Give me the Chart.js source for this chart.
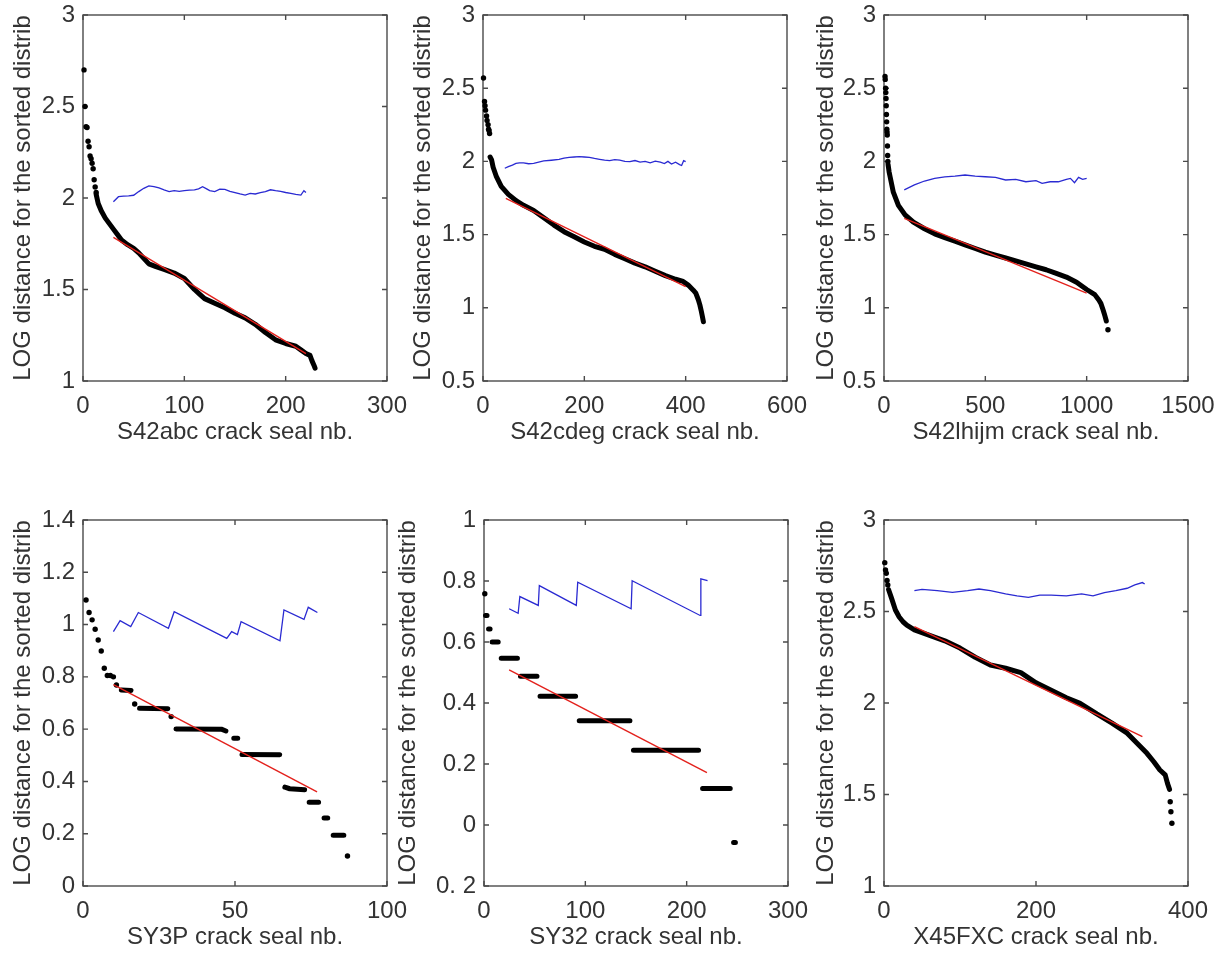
<!DOCTYPE html>
<html>
<head>
<meta charset="utf-8">
<script src="https://cdn.jsdelivr.net/npm/chart.js@4.4.1/dist/chart.umd.min.js"></script>
<style>
  body { margin: 0; background: #fff; }
  #page { position: relative; width: 1227px; height: 954px; overflow: hidden; }
  canvas { position: absolute; }
</style>
</head>
<body>
<div id="page"></div>
<script>
// ---- S42abc ----
const abcDots = [[1,2.70],[2,2.50],[3,2.39],[4,2.385],[5,2.31],[6,2.28],[7,2.23],[8,2.215],[9,2.19],[10,2.16],[11,2.10],[12,2.06],[13,2.03]];
const abcRuns = [[[13,2.02],[15,1.97],[18,1.93],[22,1.89],[26,1.86],[30,1.83],[34,1.80],[38,1.77],[44,1.745],[50,1.725],[55,1.70],[60,1.67],[65,1.64],[72,1.625],[80,1.61],[90,1.59],[100,1.56],[105,1.53],[110,1.50],[115,1.475],[120,1.45],[130,1.425],[140,1.40],[150,1.37],[160,1.345],[170,1.31],[180,1.265],[190,1.225],[200,1.205],[210,1.19],[215,1.17],[220,1.15],[224,1.14],[226,1.11],[228,1.085],[229,1.07]]];
const abcFit = [[30,1.785],[220,1.15]];
const abcAvg = [[30,1.98],[35,2.007],[40,2.01],[45,2.012],[50,2.015],[55,2.035],[60,2.053],[65,2.066],[70,2.062],[75,2.055],[80,2.044],[85,2.035],[90,2.04],[95,2.036],[100,2.04],[105,2.043],[110,2.044],[114,2.05],[118,2.062],[122,2.05],[125,2.04],[130,2.035],[135,2.048],[140,2.047],[145,2.036],[150,2.03],[155,2.022],[160,2.016],[165,2.025],[170,2.022],[175,2.03],[180,2.035],[185,2.045],[190,2.04],[195,2.036],[200,2.03],[205,2.025],[210,2.02],[215,2.016],[218,2.04],[220,2.03]];

// ---- S42cdeg ----
const cdegDots = [[1,2.57],[3,2.41],[4,2.38],[5,2.35],[7,2.31],[8,2.28],[10,2.25],[11,2.22],[12,2.21],[13,2.19]];
const cdegRuns = [[[14,2.03],[17,2.01],[20,1.96],[26,1.90],[36,1.83],[50,1.775],[66,1.73],[80,1.70],[100,1.665],[120,1.615],[140,1.565],[160,1.52],[180,1.485],[200,1.45],[220,1.42],[240,1.40],[260,1.365],[280,1.335],[300,1.305],[320,1.28],[340,1.25],[360,1.22],[380,1.195],[395,1.18],[405,1.155],[415,1.12],[420,1.10],[425,1.055],[428,1.02],[431,0.975],[433,0.94],[435,0.905]]];
const cdegFit = [[45,1.748],[400,1.145]];
const cdegAvg = [[43,1.953],[50,1.964],[58,1.975],[65,1.987],[72,1.99],[80,1.99],[90,1.984],[100,1.987],[110,1.995],[120,2.003],[135,2.008],[150,2.014],[160,2.022],[170,2.028],[180,2.03],[190,2.032],[200,2.03],[210,2.028],[220,2.02],[230,2.014],[240,2.008],[250,2.005],[260,2.012],[270,2.008],[280,2.0],[290,1.998],[300,2.006],[310,1.995],[320,2.0],[330,1.99],[340,2.002],[350,1.995],[358,1.985],[365,2.0],[372,1.982],[380,1.995],[388,1.978],[392,1.972],[396,2.005],[400,1.998]];

// ---- S42lhijm ----
const lhijmDots = [[5,2.58],[6,2.56],[8,2.50],[9,2.47],[10,2.43],[11,2.38],[12,2.32],[13,2.27],[14,2.22],[15,2.20],[16,2.18],[17,2.105],[18,2.04],[19,2.00],[1105,0.85]];
const lhijmRuns = [[[20,1.98],[25,1.93],[30,1.896],[46,1.79],[71,1.70],[104,1.635],[145,1.585],[200,1.54],[250,1.505],[300,1.48],[350,1.455],[400,1.43],[450,1.405],[500,1.38],[550,1.36],[600,1.34],[650,1.32],[700,1.30],[750,1.28],[800,1.26],[850,1.235],[900,1.21],[950,1.175],[1000,1.125],[1040,1.09],[1060,1.053],[1070,1.03],[1080,0.99],[1090,0.945],[1097,0.91]]];
const lhijmFit = [[100,1.611],[1000,1.10]];
const lhijmAvg = [[100,1.805],[150,1.839],[200,1.866],[250,1.884],[300,1.895],[350,1.90],[400,1.907],[450,1.90],[500,1.895],[550,1.891],[600,1.873],[650,1.877],[700,1.861],[750,1.868],[780,1.85],[820,1.861],[860,1.861],[900,1.877],[920,1.884],[940,1.855],[960,1.891],[980,1.877],[1000,1.884]];

// ---- SY3P ----
const sy3pDots = [[1,1.094],[2,1.046],[3,1.018],[4,0.982],[5,0.941],[6,0.899],[7,0.833],[8,0.805],[9,0.805],[10,0.80],[11,0.769],[17,0.696],[29,0.648],[87,0.115]];
const sy3pRuns = [
  [[12.6,0.75],[15.8,0.748]],
  [[18.6,0.68],[27.9,0.678]],
  [[30.6,0.601],[45.5,0.60],[47,0.593]],
  [[49.6,0.565],[50.9,0.565]],
  [[52.3,0.503],[64.7,0.502]],
  [[66.4,0.378],[68,0.372],[72.9,0.368]],
  [[74.4,0.32],[77.5,0.32]],
  [[79.3,0.26],[80.5,0.26]],
  [[82.3,0.194],[85.8,0.194]]
];
const sy3pFit = [[10,0.77],[77,0.36]];
const sy3pAvg = [[10,0.973],[12.2,1.015],[15.7,0.992],[18.2,1.046],[28.1,0.986],[30,1.049],[47.3,0.947],[48.9,0.973],[50.8,0.962],[52,1.011],[64.8,0.938],[66.1,1.056],[72.7,1.02],[74.1,1.066],[77.1,1.046]];

// ---- SY32 ----
const sy32Dots = [[0.8,0.758]];
const sy32Runs = [
  [[1.5,0.687],[3,0.687]],
  [[4.5,0.643],[6,0.643]],
  [[8,0.60],[14,0.60]],
  [[17,0.547],[33,0.547]],
  [[36,0.488],[52.3,0.488]],
  [[55.3,0.422],[90.4,0.422]],
  [[94,0.342],[144,0.342]],
  [[147.5,0.245],[211.7,0.245]],
  [[215.7,0.12],[243,0.12]],
  [[246.3,-0.057],[248.1,-0.057]]
];
const sy32Fit = [[24.8,0.509],[220,0.172]];
const sy32Avg = [[24.8,0.709],[33.7,0.694],[35.4,0.749],[53.6,0.72],[54.6,0.785],[91.1,0.72],[92.5,0.796],[145.2,0.709],[146.2,0.801],[213.3,0.687],[214,0.807],[220.6,0.801]];

// ---- X45FXC ----
const fxcDots = [[1,2.767],[2,2.727],[3,2.709],[4,2.67],[5,2.645],[376.6,1.46],[377.5,1.406],[378.8,1.343]];
const fxcRuns = [[[6,2.62],[7,2.608],[10,2.572],[15,2.508],[20,2.47],[25,2.444],[30,2.426],[40,2.40],[60,2.37],[80,2.34],[100,2.30],[120,2.25],[140,2.208],[160,2.19],[180,2.166],[200,2.11],[220,2.07],[240,2.029],[258,1.998],[280,1.94],[300,1.89],[320,1.835],[333,1.78],[346,1.725],[355,1.679],[363,1.634],[370,1.607],[373,1.561],[375.7,1.528]]];
const fxcFit = [[40,2.417],[340,1.816]];
const fxcAvg = [[40,2.614],[50,2.621],[70,2.614],[90,2.605],[110,2.614],[125,2.623],[140,2.614],[160,2.596],[175,2.585],[190,2.577],[205,2.59],[220,2.59],[240,2.585],[260,2.596],[275,2.585],[290,2.603],[305,2.614],[320,2.627],[330,2.645],[340,2.658],[343,2.65]];

const yTitle = 'LOG distance for the sorted distrib';

const panels = [
  { name: 'S42abc',  left: 83,  top: 15,  xMax: 300,  xStep: 100, yMin: 1,    yMax: 3,   yStep: 0.5, titleX: 23, dots: abcDots,   runs: abcRuns,   fit: abcFit,   avg: abcAvg },
  { name: 'S42cdeg', left: 483, top: 15,  xMax: 600,  xStep: 200, yMin: 0.5,  yMax: 3,   yStep: 0.5, titleX: 23, dots: cdegDots,  runs: cdegRuns,  fit: cdegFit,  avg: cdegAvg },
  { name: 'S42lhijm',left: 884, top: 15,  xMax: 1500, xStep: 500, yMin: 0.5,  yMax: 3,   yStep: 0.5, titleX: 25, dots: lhijmDots, runs: lhijmRuns, fit: lhijmFit, avg: lhijmAvg },
  { name: 'SY3P',    left: 83,  top: 520, xMax: 100,  xStep: 50,  yMin: 0,    yMax: 1.4, yStep: 0.2, titleX: 23, dots: sy3pDots,  runs: sy3pRuns,  fit: sy3pFit,  avg: sy3pAvg },
  { name: 'SY32',    left: 484, top: 520, xMax: 300,  xStep: 100, yMin: -0.2, yMax: 1,   yStep: 0.2, titleX: 7,  dots: sy32Dots,  runs: sy32Runs,  fit: sy32Fit,  avg: sy32Avg },
  { name: 'X45FXC',  left: 884, top: 520, xMax: 400,  xStep: 200, yMin: 1,    yMax: 3,   yStep: 0.5, titleX: 25, dots: fxcDots,   runs: fxcRuns,   fit: fxcFit,   avg: fxcAvg }
];

const AXIS_W = 100, PLOT_W = 304, PLOT_H = 366, X_H = 66, PAD_TOP = 30, PAD_RIGHT = 40;
const FONT = { family: '"Liberation Sans", Arial, Helvetica, sans-serif', size: 24 };
const TEXT = '#333';

function pts(arr) {
  return arr.map(p => ({ x: p[0], y: p[1] }));
}

function runsToData(runs) {
  const out = [];
  runs.forEach((run, i) => {
    if (i > 0) out.push({ x: run[0][0], y: null });
    run.forEach(p => out.push({ x: p[0], y: p[1] }));
  });
  return out;
}

function fmt(v) {
  if (Math.abs(v + 0.2) < 1e-9) return '0. 2';
  return String(Math.round(v * 100) / 100);
}

// matlab style box with inward ticks on all four sides
const boxPlugin = {
  id: 'box',
  beforeDatasetsDraw(chart) {
    const { ctx, chartArea: a, scales: { x, y } } = chart;
    ctx.save();
    ctx.strokeStyle = '#4a4a4a';
    ctx.lineWidth = 1.4;
    ctx.strokeRect(a.left, a.top, a.right - a.left, a.bottom - a.top);
    ctx.beginPath();
    x.ticks.forEach(t => {
      const px = x.getPixelForValue(t.value);
      ctx.moveTo(px, a.bottom); ctx.lineTo(px, a.bottom - 5);
      ctx.moveTo(px, a.top); ctx.lineTo(px, a.top + 5);
    });
    y.ticks.forEach(t => {
      const py = y.getPixelForValue(t.value);
      ctx.moveTo(a.left, py); ctx.lineTo(a.left + 5, py);
      ctx.moveTo(a.right, py); ctx.lineTo(a.right - 5, py);
    });
    ctx.stroke();
    ctx.restore();
  }
};

function makeChart(p) {
  const canvas = document.createElement('canvas');
  const w = AXIS_W + PLOT_W + PAD_RIGHT;
  const h = PAD_TOP + PLOT_H + X_H;
  canvas.width = w;
  canvas.height = h;
  canvas.style.left = (p.left - AXIS_W) + 'px';
  canvas.style.top = (p.top - PAD_TOP) + 'px';
  canvas.style.width = w + 'px';
  canvas.style.height = h + 'px';
  document.getElementById('page').appendChild(canvas);

  const lh = FONT.size * 1.2;
  // title centre sits p.titleX px right of the page column left of the box (left - 83)
  const titlePad = (AXIS_W - 83) + p.titleX - lh / 2;

  new Chart(canvas, {
    type: 'scatter',
    data: {
      datasets: [
        { data: pts(p.fit), showLine: true, borderColor: '#e3211c', borderWidth: 1.4, pointRadius: 0, order: 0 },
        { data: pts(p.avg), showLine: true, borderColor: '#2a2ad2', borderWidth: 1.3, pointRadius: 0, order: 1 },
        { data: runsToData(p.runs), showLine: true, spanGaps: false, borderColor: '#000', borderWidth: 5,
          borderCapStyle: 'round', borderJoinStyle: 'round', pointRadius: 0, clip: false, order: 2 },
        { data: pts(p.dots), showLine: false, backgroundColor: '#000', borderWidth: 0, pointRadius: 2.7, clip: false, order: 3 }
      ]
    },
    options: {
      responsive: false,
      animation: false,
      events: [],
      layout: { padding: { left: 0, top: PAD_TOP, right: PAD_RIGHT, bottom: 0 } },
      plugins: { legend: { display: false }, tooltip: { enabled: false } },
      scales: {
        x: {
          type: 'linear', min: 0, max: p.xMax,
          afterFit: s => { s.height = X_H; },
          grid: { display: false, drawTicks: false }, border: { display: false },
          ticks: { stepSize: p.xStep, padding: 11, maxRotation: 0, autoSkip: false, font: FONT, color: TEXT, callback: fmt },
          title: { display: true, text: p.name + ' crack seal nb.', font: FONT, color: TEXT, padding: 0 }
        },
        y: {
          type: 'linear', min: p.yMin, max: p.yMax,
          afterFit: s => { s.width = AXIS_W; },
          grid: { display: false, drawTicks: false }, border: { display: false },
          ticks: { stepSize: p.yStep, padding: 8, autoSkip: false, font: FONT, color: TEXT, callback: fmt },
          title: { display: true, text: yTitle, font: FONT, color: TEXT, padding: { top: titlePad, bottom: 0 } }
        }
      }
    },
    plugins: [boxPlugin]
  });
}

panels.forEach(makeChart);
</script>
</body>
</html>
